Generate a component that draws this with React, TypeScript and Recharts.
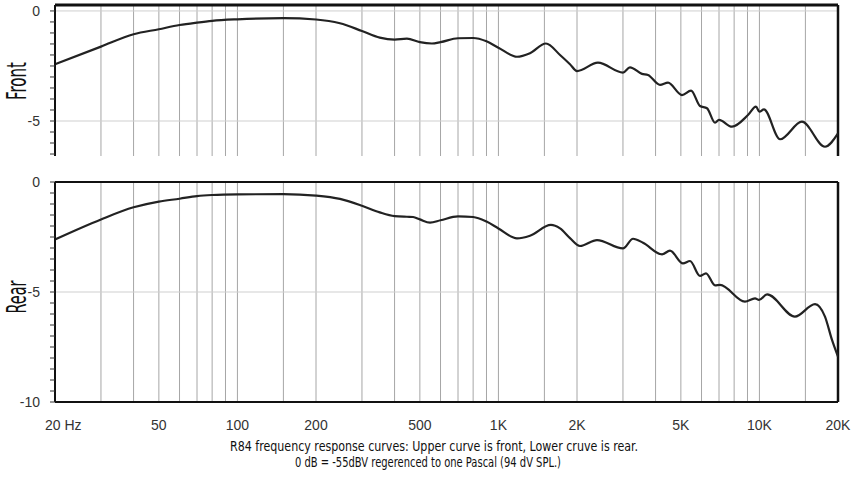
import React from 'react';
import { LineChart, Line, XAxis, YAxis, ReferenceLine } from 'recharts';

// frequency response (Hz, dB)
const FRONT_FREQ = [20, 30, 40, 50, 60, 70, 80, 100, 150, 200, 247, 300, 351, 400, 446, 500, 556, 600, 700, 800, 900, 1000, 1178, 1321, 1521, 1722, 1880, 2000, 2406, 3000, 3191, 3548, 3742, 4160, 4464, 5050, 5470, 5920, 6297, 6760, 7000, 7850, 9040, 9700, 10000, 10400, 12000, 14550, 17830, 20000];
const FRONT_DB = [-2.42, -1.62, -1.06, -0.83, -0.64, -0.53, -0.45, -0.38, -0.33, -0.39, -0.56, -0.91, -1.21, -1.3, -1.26, -1.42, -1.48, -1.42, -1.24, -1.23, -1.38, -1.67, -2.08, -1.92, -1.48, -2.0, -2.42, -2.73, -2.35, -2.8, -2.56, -2.86, -2.91, -3.36, -3.26, -3.82, -3.62, -4.32, -4.42, -5.08, -4.95, -5.26, -4.73, -4.35, -4.58, -4.47, -5.83, -5.03, -6.17, -5.56];

const REAR_FREQ = [20, 30, 40, 50, 60, 70, 80, 100, 150, 200, 247, 300, 351, 400, 446, 471, 500, 547, 600, 700, 800, 900, 1000, 1178, 1321, 1589, 1722, 1880, 2053, 2386, 3000, 3280, 3580, 4236, 4541, 5095, 5420, 5920, 6240, 6760, 7060, 8800, 9620, 9960, 10700, 13680, 16330, 17830, 18970, 20000];
const REAR_DB = [-2.61, -1.7, -1.15, -0.89, -0.76, -0.64, -0.59, -0.56, -0.55, -0.62, -0.77, -1.08, -1.38, -1.55, -1.58, -1.59, -1.7, -1.85, -1.74, -1.56, -1.59, -1.8, -2.11, -2.56, -2.44, -1.95, -2.11, -2.55, -2.91, -2.64, -3.02, -2.58, -2.76, -3.29, -3.12, -3.7, -3.59, -4.27, -4.15, -4.7, -4.68, -5.44, -5.29, -5.36, -5.11, -6.12, -5.55, -6.12, -7.18, -7.94];

const X_TICKS = [20, 50, 100, 200, 500, 1000, 2000, 5000, 10000, 20000];
const X_LABELS = ['20 Hz', '50', '100', '200', '500', '1K', '2K', '5K', '10K', '20K'];
const GRID_FREQ = [30, 40, 50, 60, 70, 80, 90, 100, 150, 200, 300, 400, 500, 600, 700, 800, 900, 1000, 1500, 2000, 3000, 4000, 5000, 6000, 7000, 8000, 9000, 10000, 15000];

const TOP_TICKS = [0, -0.5, -1, -1.5, -2, -2.5, -3, -3.5, -4, -4.5, -5, -5.5, -6, -6.5];
const BOTTOM_TICKS = [0, -0.5, -1, -1.5, -2, -2.5, -3, -3.5, -4, -4.5, -5, -5.5, -6, -6.5, -7, -7.5, -8, -8.5, -9, -9.5, -10];
const Y_LABELED = [0, -5, -10];

const front = FRONT_FREQ.map((f, i) => ({ f, db: FRONT_DB[i] }));
const rear = REAR_FREQ.map((f, i) => ({ f, db: REAR_DB[i] }));

const AXIS_FONT = '"Liberation Sans", Arial, sans-serif';
const NARROW_FONT = '"Liberation Sans Narrow", "DejaVu Sans Condensed", "Liberation Sans", sans-serif';

const YTick = (props: any) => {
  const v = props.payload.value;
  if (!Y_LABELED.includes(v)) return <g />;
  return (
    <text x={props.x} y={props.y} dy={5} textAnchor="end" fontSize={14} fontFamily={AXIS_FONT} fill="#333">
      {v}
    </text>
  );
};

const XTick = (props: any) => {
  const v = props.payload.value;
  const label = X_LABELS[X_TICKS.indexOf(v)];
  const first = v === 20;
  return (
    <text
      x={first ? props.x - 10 : props.x}
      y={props.y + 26}
      textAnchor={first ? 'start' : 'middle'}
      fontSize={14}
      fontFamily={AXIS_FONT}
      fill="#333"
    >
      {label}
    </text>
  );
};

const EmptyTick = () => <g />;

function Panel({ data, domain, ticks, height, margin, showX }: any) {
  return (
    <LineChart width={860} height={height} data={data} margin={margin}>
      <XAxis
        dataKey="f"
        type="number"
        scale="log"
        domain={[20, 20000]}
        allowDataOverflow
        ticks={X_TICKS}
        hide={!showX}
        height={30}
        tickSize={0}
        tickLine={false}
        tick={XTick}
        interval={0}
        axisLine={{ stroke: '#111', strokeWidth: 2 }}
      />
      <YAxis
        type="number"
        domain={domain}
        allowDataOverflow
        ticks={ticks}
        interval={0}
        width={55}
        tickSize={5}
        tickMargin={10}
        tick={YTick}
        tickLine={{ stroke: '#333' }}
        axisLine={{ stroke: '#111', strokeWidth: 2 }}
      />
      <YAxis
        yAxisId="r"
        orientation="right"
        mirror
        type="number"
        domain={domain}
        allowDataOverflow
        ticks={ticks}
        interval={0}
        width={0}
        tickSize={4}
        tick={EmptyTick}
        tickLine={{ stroke: '#555' }}
        axisLine={false}
      />
      {GRID_FREQ.map((f) => (
        <ReferenceLine key={f} x={f} stroke="#a6a6a6" strokeWidth={1} />
      ))}
      <ReferenceLine y={-5} stroke="#cfcfcf" strokeWidth={1} />
      <ReferenceLine y={0} stroke={showX ? '#111' : '#cfcfcf'} strokeWidth={showX ? 2 : 1} />
      {!showX && <ReferenceLine y={domain[1]} stroke="#111" strokeWidth={3} />}
      <ReferenceLine x={20000} stroke="#111" strokeWidth={2.5} />
      <Line
        dataKey="db"
        type="monotone"
        stroke="#222"
        strokeWidth={2.2}
        dot={false}
        isAnimationActive={false}
      />
    </LineChart>
  );
}

export default function App() {
  return (
    <div style={{ position: 'absolute', left: 0, top: 0, width: 860, height: 478, background: '#fff' }}>
      <div style={{ position: 'absolute', left: 0, top: 0 }}>
        <Panel
          data={front}
          domain={[-6.59, 0.27]}
          ticks={TOP_TICKS}
          height={160}
          margin={{ top: 5, right: 22, bottom: 4, left: 0 }}
          showX={false}
        />
      </div>
      <div style={{ position: 'absolute', left: 0, top: 170 }}>
        <Panel
          data={rear}
          domain={[-10, 0]}
          ticks={BOTTOM_TICKS}
          height={270}
          margin={{ top: 12, right: 22, bottom: 8, left: 0 }}
          showX
        />
      </div>
      <svg width={860} height={478} style={{ position: 'absolute', left: 0, top: 0, pointerEvents: 'none' }}>
        <text
          transform="translate(26,81) rotate(-90)"
          textAnchor="middle"
          fontSize={26}
          fontFamily={NARROW_FONT}
          textLength={38}
          lengthAdjust="spacingAndGlyphs"
          fill="#111"
        >
          Front
        </text>
        <text
          transform="translate(26,297) rotate(-90)"
          textAnchor="middle"
          fontSize={26}
          fontFamily={NARROW_FONT}
          textLength={33}
          lengthAdjust="spacingAndGlyphs"
          fill="#111"
        >
          Rear
        </text>
        <text
          x={434}
          y={451}
          textAnchor="middle"
          fontSize={14}
          fontFamily={NARROW_FONT}
          textLength={408}
          lengthAdjust="spacingAndGlyphs"
          fill="#111"
        >
          R84 frequency response curves: Upper curve is front, Lower cruve is rear.
        </text>
        <text
          x={428}
          y={467}
          textAnchor="middle"
          fontSize={14}
          fontFamily={NARROW_FONT}
          textLength={266}
          lengthAdjust="spacingAndGlyphs"
          fill="#111"
        >
          0 dB = -55dBV regerenced to one Pascal (94 dV SPL.)
        </text>
      </svg>
    </div>
  );
}
